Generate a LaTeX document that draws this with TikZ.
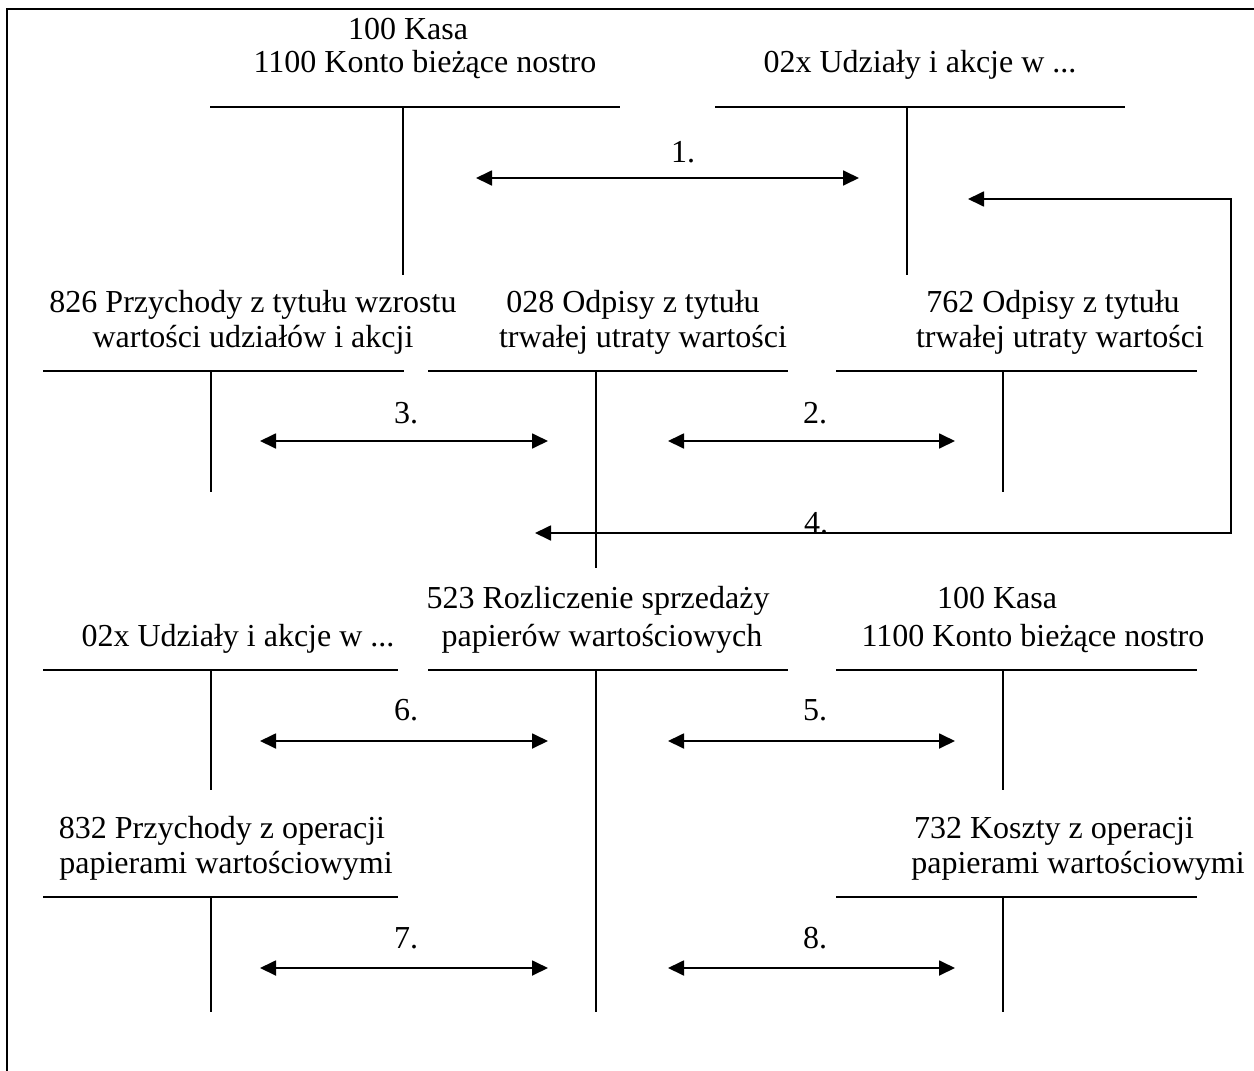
\documentclass[tikz,border=0pt]{standalone}
\usepackage{fontspec}
\setmainfont{Liberation Serif}
\usetikzlibrary{arrows.meta}
\begin{document}
\begin{tikzpicture}[x=1pt,y=-1pt,
  title/.style={anchor=base, inner sep=0pt, font=\fontsize{32}{38}\selectfont},
  tline/.style={line width=1.8pt},
  flow/.style={line width=1.8pt,
    {Triangle[length=16pt,width=15pt]}-{Triangle[length=16pt,width=15pt]}},
  oneway/.style={line width=1.8pt, -{Triangle[length=16pt,width=15pt]}},
  num/.style={anchor=base, inner sep=0pt, font=\fontsize{32}{38}\selectfont}]
\clip (0,0) rectangle (1254,1071);
% outer frame
\draw[line width=2.5pt] (7,1100) -- (7,9) -- (1300,9);

% ---- account titles ----
\node[title] (kasaA1) at (408,39) {100 Kasa};
\node[title] (kasaA2) at (425,72) {1100 Konto bieżące nostro};
\node[title] (udzA) at (920,72) {02x Udziały i akcje w ...};

\node[title] (przA1) at (253,312) {826 Przychody z tytułu wzrostu};
\node[title] (przA2) at (253,347) {wartości udziałów i akcji};
\node[title] (odpA1) at (633,312) {028 Odpisy z tytułu};
\node[title] (odpA2) at (643,347) {trwałej utraty wartości};
\node[title] (odpB1) at (1053,312) {762 Odpisy z tytułu};
\node[title] (odpB2) at (1060,347) {trwałej utraty wartości};

\node[title] (udzB) at (238,646) {02x Udziały i akcje w ...};
\node[title] (rozl1) at (598,608) {523 Rozliczenie sprzedaży};
\node[title] (rozl2) at (602,646) {papierów wartościowych};
\node[title] (kasaB1) at (997,608) {100 Kasa};
\node[title] (kasaB2) at (1033,646) {1100 Konto bieżące nostro};

\node[title] (prz832a) at (222,838) {832 Przychody z operacji};
\node[title] (prz832b) at (226,873) {papierami wartościowymi};
\node[title] (kos732a) at (1054,838) {732 Koszty z operacji};
\node[title] (kos732b) at (1078,873) {papierami wartościowymi};

% ---- T-accounts ----
\draw[tline] (210,107) -- (620,107) (403,107) -- (403,275);
\draw[tline] (715,107) -- (1125,107) (907,107) -- (907,275);
\draw[tline] (43,371) -- (404,371) (211,371) -- (211,492);
\draw[tline] (428,371) -- (788,371) (596,371) -- (596,568);
\draw[tline] (836,371) -- (1197,371) (1003,371) -- (1003,492);
\draw[tline] (43,670) -- (398,670) (211,670) -- (211,790);
\draw[tline] (428,670) -- (788,670) (596,670) -- (596,1012);
\draw[tline] (836,670) -- (1197,670) (1003,670) -- (1003,790);
\draw[tline] (43,897) -- (398,897) (211,897) -- (211,1012);
\draw[tline] (836,897) -- (1197,897) (1003,897) -- (1003,1012);

% ---- flow ends ----
\coordinate (f1a) at (476,178);  \coordinate (f1b) at (859,178);
\coordinate (f2a) at (668,441);  \coordinate (f2b) at (955,441);
\coordinate (f3a) at (260,441);  \coordinate (f3b) at (548,441);
\coordinate (f5a) at (668,741);  \coordinate (f5b) at (955,741);
\coordinate (f6a) at (260,741);  \coordinate (f6b) at (548,741);
\coordinate (f7a) at (260,968);  \coordinate (f7b) at (548,968);
\coordinate (f8a) at (668,968);  \coordinate (f8b) at (955,968);
\coordinate (f4a) at (968,199);
\coordinate (f4c1) at (1231,199);
\coordinate (f4c2) at (1231,533);
\coordinate (f4b) at (535,533);

\draw[flow] (f1a) -- (f1b);
\draw[flow] (f2a) -- (f2b);
\draw[flow] (f3a) -- (f3b);
\draw[flow] (f5a) -- (f5b);
\draw[flow] (f6a) -- (f6b);
\draw[flow] (f7a) -- (f7b);
\draw[flow] (f8a) -- (f8b);
\draw[flow] (f4a) -- (f4c1) -- (f4c2) -- (f4b);

% ---- operation numbers ----
\node[num] (n1) at (683,162) {1.};
\node[num] (n2) at (815,423) {2.};
\node[num] (n3) at (406,423) {3.};
\node[num] (n4) at (816,533) {4.};
\node[num] (n5) at (815,720) {5.};
\node[num] (n6) at (406,720) {6.};
\node[num] (n7) at (406,948) {7.};
\node[num] (n8) at (815,948) {8.};
\end{tikzpicture}
\end{document}
